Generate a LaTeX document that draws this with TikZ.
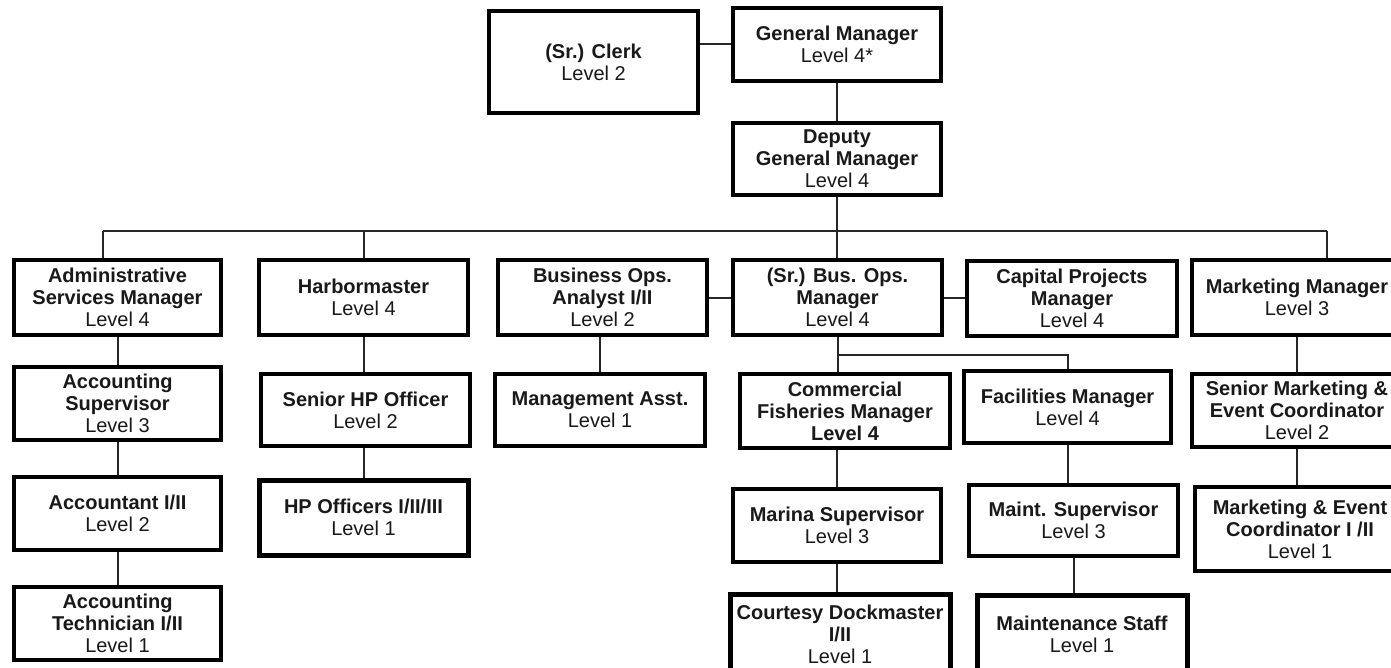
\documentclass[tikz,border=0pt]{standalone}
\usepackage{fontspec}
\setmainfont{Liberation Sans}
\usetikzlibrary{calc}
\newcommand{\nm}[1]{\textbf{#1}}
\tikzset{
  box/.style={draw=black, line width=4pt, fill=white, align=center, inner sep=1pt,
    minimum width=209pt, minimum height=73pt, text=black!90,
    font=\fontsize{20}{22}\selectfont},
  thickbox/.style={box, line width=5pt},
  link/.style={draw=black!85, line width=2pt},
}
\begin{document}
\begin{tikzpicture}[x=1pt,y=-1pt]
\useasboundingbox (0,0) rectangle (1391,668);
\clip (0,0) rectangle (1391,668);
% top
\node[box, minimum width=209pt, minimum height=102pt] (clerk) at (593.5,62) {\nm{(Sr.) Clerk}\\Level 2};
\node[box, minimum width=208pt] (gm) at (837,44.5) {\nm{General Manager}\\Level 4*};
\node[box, minimum width=208pt, minimum height=72pt] (dgm) at (837,159) {\nm{Deputy}\\\nm{General Manager}\\Level 4};
% row 2
\node[box, minimum width=207pt, minimum height=75pt] (admin) at (117.5,297.5) {\nm{Administrative}\\\nm{Services Manager}\\Level 4};
\node[box, minimum height=75pt] (harbor) at (363.5,297.5) {\nm{Harbormaster}\\Level 4};
\node[box, minimum height=75pt] (boa) at (602.5,297.5) {\nm{Business Ops.}\\\nm{Analyst I/II}\\Level 2};
\node[box, minimum height=75pt] (bom) at (837.5,297.5) {\nm{(Sr.) Bus. Ops.}\\\nm{Manager}\\Level 4};
\node[box, minimum width=210pt, minimum height=75pt] (cpm) at (1072,298.5) {\nm{Capital Projects}\\\nm{Manager}\\Level 4};
\node[box, minimum width=210pt, minimum height=75pt] (mm) at (1297,297.5) {\nm{Marketing Manager}\\Level 3};
% row 3
\node[box, minimum width=207pt] (acctsup) at (117.5,403.5) {\nm{Accounting}\\\nm{Supervisor}\\Level 3};
\node[box, minimum height=72pt] (shp) at (365.5,410) {\nm{Senior HP Officer}\\Level 2};
\node[box, minimum width=210pt, minimum height=72pt] (masst) at (600,410) {\nm{Management Asst.}\\Level 1};
\node[box, minimum width=210pt, minimum height=74pt] (cfm) at (845,411) {\nm{Commercial}\\\nm{Fisheries Manager}\\\nm{Level 4}};
\node[box, minimum width=207pt, minimum height=72pt] (fm) at (1067.5,407) {\nm{Facilities Manager}\\Level 4};
\node[box, minimum width=210pt, minimum height=73pt] (smec) at (1297,410.5) {\nm{Senior Marketing \&}\\\nm{Event Coordinator}\\Level 2};
% row 4
\node[box, minimum width=207pt] (acct) at (117.5,513.5) {\nm{Accountant I/II}\\Level 2};
\node[thickbox, minimum height=75pt] (hpo) at (363.5,517.5) {\nm{HP Officers I/II/III}\\Level 1};
\node[box, minimum width=208pt] (marina) at (837,525.5) {\nm{Marina Supervisor}\\Level 3};
\node[box, minimum width=209pt, minimum height=71pt] (maintsup) at (1073.5,520.5) {\nm{Maint. Supervisor}\\Level 3};
\node[box, minimum width=210pt, minimum height=84pt] (mec) at (1300,529) {\nm{Marketing \& Event}\\\nm{Coordinator I /II}\\Level 1};
% row 5
\node[box, minimum width=207pt] (atech) at (117.5,623.5) {\nm{Accounting}\\\nm{Technician I/II}\\Level 1};
\node[thickbox, minimum width=220pt, minimum height=80pt] (court) at (840,634) {\nm{Courtesy Dockmaster}\\\nm{I/II}\\Level 1};
\node[thickbox, minimum width=210pt, minimum height=78pt] (mstaff) at (1082,634) {\nm{Maintenance Staff}\\Level 1};
% connectors
\draw[link] (gm.west) -- (gm.west -| clerk.east);
\draw[link] (gm.south) -- (dgm.north);
\coordinate (bus) at ($(dgm.south)+(0,34)$);
\coordinate (busL) at (103,0 |- bus);
\coordinate (busR) at (1327,0 |- bus);
\draw[link] (dgm.south) -- (bus);
\draw[link] (busL) -- (busR);
\draw[link] (busL) -- (busL |- admin.north);
\draw[link] (harbor.north |- bus) -- (harbor.north);
\draw[link] (bus) -- (bus |- bom.north);
\draw[link] (busR) -- (busR |- mm.north);
\draw[link] (boa.east) -- (bom.west);
\draw[link] (bom.east) -- (bom.east -| cpm.west);
\draw[link] (admin.south) -- (acctsup.north);
\draw[link] (acctsup.south) -- (acct.north);
\draw[link] (acct.south) -- (atech.north);
\draw[link] (harbor.south) -- (harbor.south |- shp.north);
\draw[link] (shp.south -| harbor.south) -- (harbor.south |- hpo.north);
\draw[link] (boa.south -| masst.north) -- (masst.north);
\coordinate (br) at ($(bom.south)+(0,18)$);
\draw[link] (bom.south) -- (bom.south |- cfm.north);
\draw[link] (br) -| (fm.north);
\draw[link] (marina.north |- cfm.south) -- (marina.north);
\draw[link] (marina.south) -- (marina.south |- court.north);
\draw[link] (fm.south) -- (fm.south |- maintsup.north);
\draw[link] (maintsup.south) -- (maintsup.south |- mstaff.north);
\draw[link] (mm.south) -- (smec.north);
\draw[link] (smec.south) -- (smec.south |- mec.north);
\end{tikzpicture}
\end{document}
